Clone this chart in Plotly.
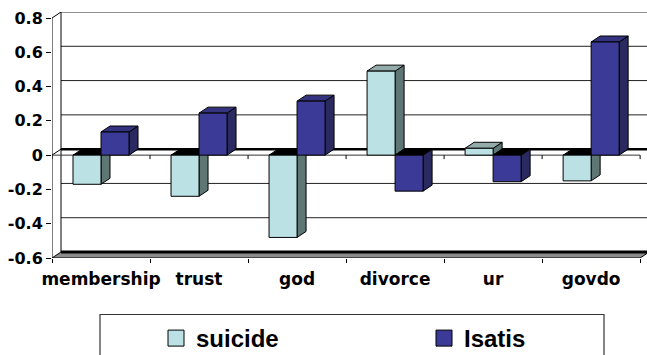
import plotly.graph_objects as go

# ---- data -------------------------------------------------------------
categories = ["membership", "trust", "god", "divorce", "ur", "govdo"]
suicide = [-0.17, -0.24, -0.48, 0.49, 0.04, -0.15]
isatis = [0.135, 0.245, 0.315, -0.21, -0.155, 0.66]
y_ticks = [-0.6, -0.4, -0.2, 0, 0.2, 0.4, 0.6, 0.8]
y_tick_labels = ["-0.6", "-0.4", "-0.2", "0", "0.2", "0.4", "0.6", "0.8"]

# ---- geometry of the pseudo-3D box ------------------------------------
Y_MIN, Y_MAX = -0.6, 0.8
DX = 9 / 98          # depth offset along x (category units)
DY = 6 / 171.4       # depth offset along y (value units)
BAR_W = 1 / 3.5      # two bars + 150% gap per category
N = len(categories)
X_RANGE = [0, 6.07]
centers = [i + 0.5 for i in range(N)]

series = [
    dict(name="suicide", values=suicide, offset=-BAR_W,
         front="#BCE1E4", side="#5E7674", top="#93ACAB"),
    dict(name="Isatis", values=isatis, offset=0.0,
         front="#3B3B97", side="#2A2A60", top="#33337F"),
]

AXIS_FONT = dict(family="DejaVu Sans", size=16, color="black", weight="bold")
LEGEND_FONT = dict(family="Liberation Sans", size=24, color="black", weight="bold")


def path(points):
    return "M " + " L ".join(f"{x},{y}" for x, y in points) + " Z"


shapes = []


def line(x0, y0, x1, y1, color="black", width=1):
    shapes.append(dict(type="line", xref="x", yref="y", x0=x0, y0=y0, x1=x1, y1=y1,
                       line=dict(color=color, width=width), layer="below"))


# back wall gridlines
x_back_end = N + DX
for v in y_ticks:
    if v == Y_MIN:
        continue
    line(DX, v + DY, x_back_end, v + DY,
         color="black" if v == 0 else "#222222", width=2.5 if v == 0 else 1)

# back wall left edge, front axis line and corner diagonals
line(DX, Y_MIN + DY, DX, Y_MAX + DY)
line(0, Y_MIN, 0, Y_MAX)
line(0, Y_MAX, DX, Y_MAX + DY)
line(0, 0, DX, DY)

# floor
shapes.append(dict(type="path", xref="x", yref="y", layer="below",
                   path=path([(0, Y_MIN), (N, Y_MIN), (N + DX, Y_MIN + DY), (DX, Y_MIN + DY)]),
                   fillcolor="#8C8C8C", line=dict(color="black", width=1)))
line(DX, Y_MIN + DY, N + DX, Y_MIN + DY, width=3)

# category axis at zero with its tick marks
line(0, 0, N, 0, color="#333333", width=1)
tick_len = 4 / 171.4
for i in range(N + 1):
    line(i, 0, i, -tick_len, color="black", width=1)

# side and top faces of every bar (front faces are the Bar traces)
for s in series:
    for c, v in zip(centers, s["values"]):
        x0 = c + s["offset"]
        x1 = x0 + BAR_W
        if v >= 0:
            top = [(x0, v), (x1, v), (x1 + DX, v + DY), (x0 + DX, v + DY)]
            top_color = s["top"]
            side = [(x1, 0), (x1 + DX, DY), (x1 + DX, v + DY), (x1, v)]
        else:
            top = [(x0, 0), (x1, 0), (x1 + DX, DY), (x0 + DX, DY)]
            top_color = "black"
            side = [(x1, v), (x1, 0), (x1 + DX, DY), (x1 + DX, v + DY)]
        shapes.append(dict(type="path", xref="x", yref="y", layer="below", path=path(side),
                           fillcolor=s["side"], line=dict(color="black", width=1)))
        shapes.append(dict(type="path", xref="x", yref="y", layer="below", path=path(top),
                           fillcolor=top_color, line=dict(color="black", width=1)))

# legend frame
shapes.append(dict(type="rect", xref="paper", yref="paper",
                   x0=(100 - 52) / 595, x1=(604 - 52) / 595,
                   y0=(258 - 314.5) / 246, y1=-0.6,
                   line=dict(color="#333333", width=1.2), fillcolor="rgba(0,0,0,0)"))

fig = go.Figure()
for s in series:
    fig.add_trace(go.Bar(
        x=centers, y=s["values"], width=BAR_W, offset=s["offset"],
        marker=dict(color=s["front"], line=dict(color="black", width=1)),
        name=s["name"], legendgroup=s["name"], showlegend=False,
        hoverinfo="x+y+name",
    ))
for s in series:
    fig.add_trace(go.Scatter(
        x=[None], y=[None], mode="markers", name=s["name"], legendgroup=s["name"],
        marker=dict(symbol="square", size=16, color=s["front"],
                    line=dict(color="black", width=1)),
    ))

fig.update_layout(
    width=647, height=355,
    margin=dict(l=52, r=0, t=12, b=97, autoexpand=False),
    paper_bgcolor="white", plot_bgcolor="white",
    barmode="overlay",
    shapes=shapes,
    showlegend=True,
    legend=dict(orientation="h", x=(156 - 52) / 595, xanchor="left",
                y=(258 - 316) / 246, yanchor="top",
                font=LEGEND_FONT, entrywidth=223, entrywidthmode="pixels",
                bgcolor="rgba(0,0,0,0)", borderwidth=0),
    xaxis=dict(range=X_RANGE, showgrid=False, zeroline=False, showline=False,
               tickmode="array", tickvals=centers, ticktext=categories, ticks="",
               ticklabelstandoff=9,
               tickfont=dict(AXIS_FONT, size=17),
               minor=dict(tickmode="array", tickvals=list(range(N + 1)), ticks="outside",
                          ticklen=4, tickcolor="black", showgrid=False)),
    yaxis=dict(range=[Y_MIN, Y_MAX + DY], showgrid=False, zeroline=False, showline=False,
               tickmode="array", tickvals=y_ticks, ticktext=y_tick_labels,
               ticks="outside", ticklen=5, tickcolor="black", tickfont=AXIS_FONT),
)

fig.write_html("out.html")
